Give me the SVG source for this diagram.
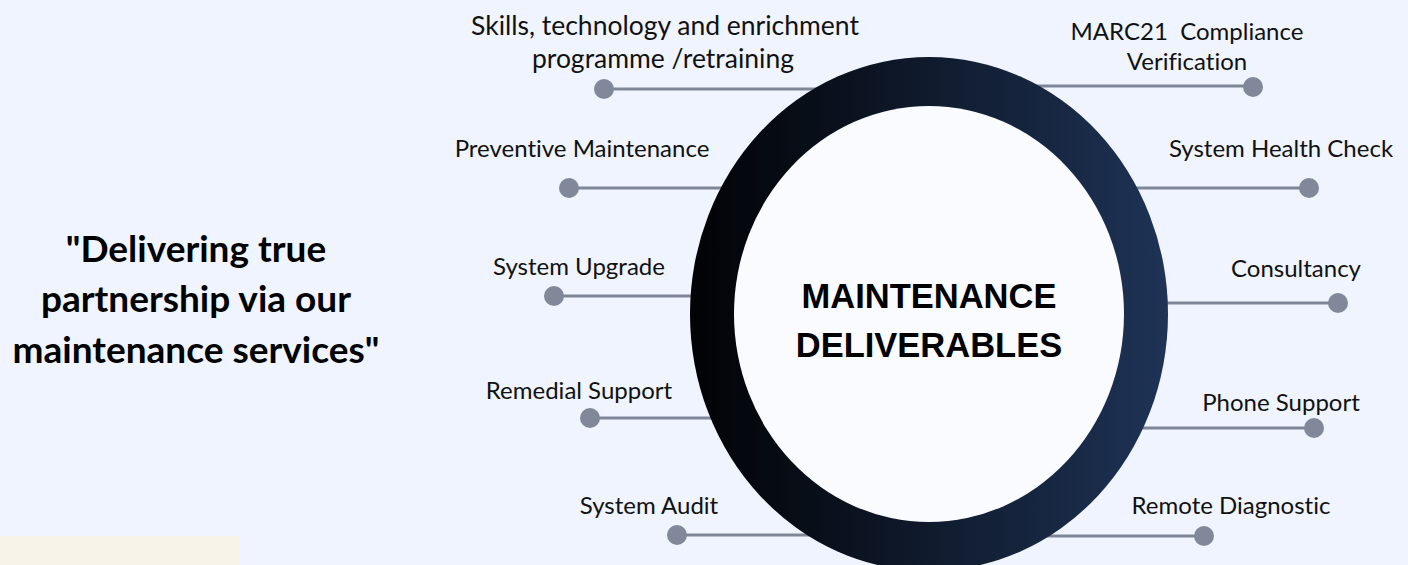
<svg xmlns="http://www.w3.org/2000/svg" width="1408" height="565" viewBox="0 0 1408 565">
<style>
text{font-variant-ligatures:none;white-space:pre}
.lbl{font-family:Lato,"Liberation Sans",sans-serif;font-size:24px;fill:#111111;text-anchor:middle}
.big{font-size:26.5px}
.quote{font-family:Lato,"Liberation Sans",sans-serif;font-size:37px;font-weight:bold;fill:#000000;text-anchor:middle}
.title{font-family:"Liberation Sans",Arial,sans-serif;font-size:34.5px;font-weight:bold;fill:#000000;text-anchor:middle}
.ln{stroke:#7f8797;stroke-width:3;fill:none}
.dot{fill:#80889a}
</style>
<defs>
<linearGradient id="ringGrad" x1="0" y1="0" x2="1" y2="0">
<stop offset="0" stop-color="#010204"/>
<stop offset="1" stop-color="#1e3356"/>
</linearGradient>
</defs>
<rect width="1408" height="565" fill="#eff4fe"/>
<rect x="0" y="536" width="240" height="29" fill="#f7f3e9"/>
<g id="quote">
<text class="quote" x="196" y="262">"Delivering true</text>
<text class="quote" x="196" y="312">partnership via our</text>
<text class="quote" x="196" y="363">maintenance services"</text>
</g>
<g id="connectors">
<line class="ln" x1="604" y1="89" x2="900" y2="89"/>
<line class="ln" x1="569" y1="188" x2="900" y2="188"/>
<line class="ln" x1="554" y1="296" x2="900" y2="296"/>
<line class="ln" x1="590" y1="418" x2="900" y2="418"/>
<line class="ln" x1="677" y1="535" x2="900" y2="535"/>
<line class="ln" x1="960" y1="86" x2="1253" y2="86"/>
<line class="ln" x1="960" y1="188" x2="1309" y2="188"/>
<line class="ln" x1="960" y1="303" x2="1338" y2="303"/>
<line class="ln" x1="960" y1="428" x2="1314" y2="428"/>
<line class="ln" x1="960" y1="536" x2="1204" y2="536"/>
</g>
<g id="center">
<ellipse cx="929" cy="314" rx="239" ry="257" fill="url(#ringGrad)"/>
<ellipse cx="929" cy="314" rx="195" ry="208" fill="#f9fbff"/>
<text class="title" x="929" y="308">MAINTENANCE</text>
<text class="title" x="929" y="357">DELIVERABLES</text>
</g>
<g id="n-skills">
<circle class="dot" cx="604" cy="89" r="10"/>
<text class="lbl big" x="665" y="35">Skills, technology and enrichment</text>
<text class="lbl big" x="663" y="68">programme /retraining</text>
</g>
<g id="n-preventive">
<circle class="dot" cx="569" cy="188" r="10"/>
<text class="lbl" x="582" y="157">Preventive Maintenance</text>
</g>
<g id="n-upgrade">
<circle class="dot" cx="554" cy="296" r="10"/>
<text class="lbl" x="579" y="275">System Upgrade</text>
</g>
<g id="n-remedial">
<circle class="dot" cx="590" cy="418" r="10"/>
<text class="lbl" x="579" y="399">Remedial Support</text>
</g>
<g id="n-audit">
<circle class="dot" cx="677" cy="535" r="10"/>
<text class="lbl" x="649" y="514">System Audit</text>
</g>
<g id="n-marc">
<circle class="dot" cx="1253" cy="87" r="10"/>
<text class="lbl" x="1187" y="40">MARC21  Compliance</text>
<text class="lbl" x="1187" y="70">Verification</text>
</g>
<g id="n-health">
<circle class="dot" cx="1309" cy="188" r="10"/>
<text class="lbl" x="1281" y="157">System Health Check</text>
</g>
<g id="n-consult">
<circle class="dot" cx="1338" cy="303" r="10"/>
<text class="lbl" x="1296" y="277">Consultancy</text>
</g>
<g id="n-phone">
<circle class="dot" cx="1314" cy="428" r="10"/>
<text class="lbl" x="1281" y="411">Phone Support</text>
</g>
<g id="n-remote">
<circle class="dot" cx="1204" cy="536" r="10"/>
<text class="lbl" x="1231" y="514">Remote Diagnostic</text>
</g>
</svg>
